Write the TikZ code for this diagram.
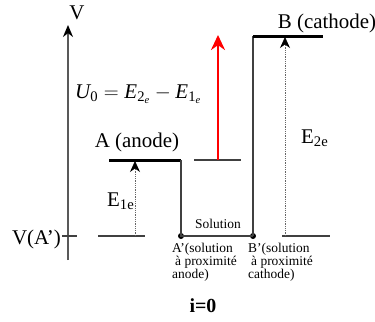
\documentclass[tikz,border=0pt]{standalone}
\usepackage{amsmath}
\usepackage{fontspec}
\setmainfont{LiberationSerif}[Extension=.ttf, UprightFont=*-Regular, BoldFont=*-Bold, ItalicFont=*-Italic, BoldItalicFont=*-BoldItalic]
\usetikzlibrary{arrows.meta}
\begin{document}
\begin{tikzpicture}[x=1bp,y=-1bp,
  lbl/.style={font=\fontsize{21}{23}\selectfont, inner sep=0pt},
  small/.style={font=\fontsize{13.5}{14}\selectfont, inner sep=0pt, align=left},
  thin line/.style={draw=black!75, line width=1.2bp},
  level/.style={draw=black, line width=3bp},
  dotarrow/.style={draw=black!60, densely dotted, line width=0.8bp, -{Stealth[length=11bp,width=10bp,black]}},
  dot/.style={circle, fill=black, inner sep=0pt, minimum size=6bp}
]
\useasboundingbox (0,0) rectangle (375,322);
% axis
\coordinate (ax0) at (68,260);
\coordinate (ax1) at (68,25);
\draw[draw=black!65, line width=2bp, -{Stealth[length=12bp,width=10bp,black]}] (ax0) -- (ax1);
\node[lbl, anchor=base] (V) at (77,19) {V};
% V(A') tick
\coordinate (t0) at (62,236);
\coordinate (t1) at (77,236);
\draw[thin line] (t0) -- (t1);
\node[lbl, anchor=base east] (VA) at (61,244) {V(A’)};
% A' level line
\coordinate (la0) at (98,236);
\coordinate (la1) at (145,236);
\draw[thin line] (la0) -- (la1);
% anode
\coordinate (an0) at (109,160);
\coordinate (an1) at (181,160);
\draw[level] (an0) -- (an1);
\node[lbl, anchor=base] (Alab) at (137,147) {A (anode)};
\coordinate (e1b) at (135,236);
\coordinate (e1t) at (135,161);
\draw[dotarrow] (e1b) -- (e1t);
\node[lbl, anchor=base west] (E1) at (107,206) {E\textsubscript{1e}};
% solution
\node[dot] (Ap) at (181,236) {};
\node[dot] (Bp) at (253,236) {};
\draw[thin line] (an1) -- (Ap.center) -- (Bp.center);
\coordinate (ca0) at (253,36);
\coordinate (ca1) at (323,36);
\draw[thin line] (Bp.center) -- (ca0);
\draw[level] (ca0) -- (ca1);
\node[lbl, anchor=base] (Blab) at (327,28) {B (cathode)};
\node[small, anchor=base] (sol) at (218,228) {Solution};
% cathode dotted arrow
\coordinate (lb0) at (282,236);
\coordinate (lb1) at (330,236);
\draw[thin line] (lb0) -- (lb1);
\coordinate (e2b) at (285,236);
\coordinate (e2t) at (285,37);
\draw[dotarrow] (e2b) -- (e2t);
\node[lbl, anchor=base west] (E2) at (301,143) {E\textsubscript{2e}};
% red arrow
\coordinate (g0) at (194,160);
\coordinate (g1) at (241,160);
\draw[thin line] (g0) -- (g1);
\coordinate (r0) at (218,160);
\coordinate (r1) at (218,35);
\draw[red, line width=2.5bp, -{Stealth[length=15bp,width=14bp]}] (r0) -- (r1);
% formula
\node[anchor=base west, inner sep=0pt, font=\fontsize{21}{24}\selectfont] (F) at (75,98)
  {$\textit{U}_{\text{0}} = \textit{E}_{\text{2}_{\textit{e}}} - \textit{E}_{\text{1}_{\textit{e}}}$};
% bottom labels
\node[small, anchor=north west] (Ap lab) at (172,243) {A’(solution\\[-1bp]\hspace{3bp}à proximité\\[-1bp]anode)};
\node[small, anchor=north west] (Bp lab) at (248,243) {B’(solution\\[-1bp]\hspace{3bp}à proximité\\[-1bp]cathode)};
\node[anchor=base, inner sep=0pt, font=\fontsize{20}{22}\selectfont\bfseries] (i0) at (203,312) {i=0};
\end{tikzpicture}
\end{document}
